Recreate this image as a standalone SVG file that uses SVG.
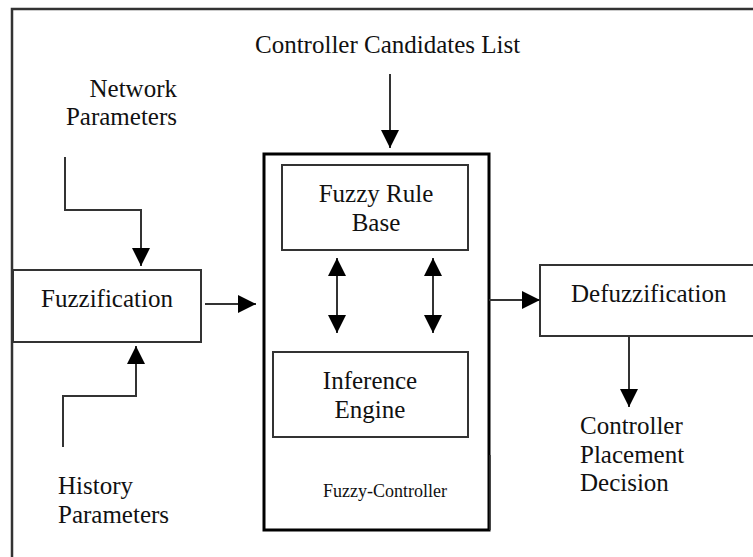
<svg xmlns="http://www.w3.org/2000/svg" width="753" height="557" viewBox="0 0 753 557">
<style>
text{font-family:"Liberation Serif","Times New Roman",serif;font-size:25px;fill:#111}
.box{fill:none;stroke:#333;stroke-width:2}
.conn{fill:none;stroke:#333;stroke-width:2}
.frame{fill:none;stroke:#333;stroke-width:2.5}
.small{font-size:18px}
</style>
<defs>
<marker id="ah" viewBox="0 0 18 18" markerUnits="userSpaceOnUse" markerWidth="18" markerHeight="18" refX="18" refY="9" orient="auto-start-reverse">
<path d="M0,0 L18,9 L0,18 z" fill="#000"/>
</marker>
</defs>
<rect width="753" height="557" fill="#fff"/>
<g id="frame">
<path class="frame" d="M12,557 V9 H753"/>
</g>
<g id="candidates"><text x="255" y="53">Controller Candidates List</text></g>
<g id="network-params">
<text x="177" y="97" text-anchor="end">Network</text>
<text x="177" y="125" text-anchor="end">Parameters</text>
</g>
<g id="history-params">
<text x="58" y="494">History</text>
<text x="58" y="523">Parameters</text>
</g>
<g id="fuzzification">
<rect class="box" x="13" y="270" width="188" height="72"/>
<text x="107" y="307" text-anchor="middle">Fuzzification</text>
</g>
<g id="fuzzy-controller">
<path d="M489,455 V530 H264 V154 H489 V455" fill="none" stroke="#000" stroke-width="3"/>
<path d="M490,455 V530" fill="none" stroke="#333" stroke-width="1.5"/>
<text class="small" x="323" y="497">Fuzzy-Controller</text>
</g>
<g id="rule-base">
<rect class="box" x="282" y="165" width="186" height="85"/>
<text x="376" y="202" text-anchor="middle">Fuzzy Rule</text>
<text x="376" y="231" text-anchor="middle">Base</text>
</g>
<g id="inference-engine">
<rect class="box" x="273" y="352" width="195" height="85"/>
<text x="370" y="389" text-anchor="middle">Inference</text>
<text x="370" y="418" text-anchor="middle">Engine</text>
</g>
<g id="defuzzification">
<path class="box" d="M755,265 H540 V336 H755"/>
<text x="571" y="302">Defuzzification</text>
</g>
<g id="decision">
<text x="580" y="434">Controller</text>
<text x="580" y="463">Placement</text>
<text x="580" y="491">Decision</text>
</g>
<g id="connectors">
<path class="conn" d="M390,74 V148" marker-end="url(#ah)"/>
<path class="conn" d="M65,157 V210 H141 V266" marker-end="url(#ah)"/>
<path class="conn" d="M63,447 V396 H136 V346" marker-end="url(#ah)"/>
<path class="conn" d="M205,304 H256" marker-end="url(#ah)"/>
<path class="conn" d="M489,300 H540" marker-end="url(#ah)"/>
<path class="conn" d="M629,336 V407" marker-end="url(#ah)"/>
<path class="conn" d="M337,258 V333" marker-start="url(#ah)" marker-end="url(#ah)"/>
<path class="conn" d="M433,258 V333" marker-start="url(#ah)" marker-end="url(#ah)"/>
</g>
</svg>
